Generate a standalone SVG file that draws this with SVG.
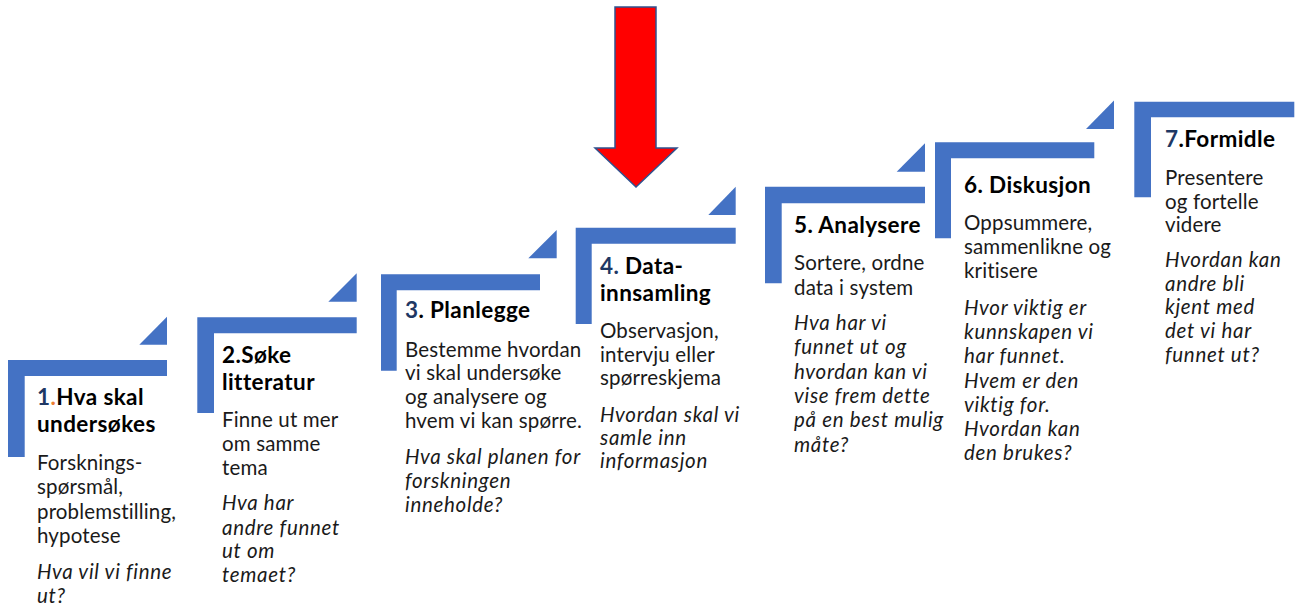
<svg xmlns="http://www.w3.org/2000/svg" width="1298" height="605" viewBox="0 0 1298 605">
<style>
.step{fill:#4472C4}
.t{font-family:Lato,"Open Sans","Liberation Sans",sans-serif;font-weight:700;font-size:22.5px;letter-spacing:0.4px;fill:#000}
.b{font-family:Lato,"Open Sans","Liberation Sans",sans-serif;font-size:20.5px;letter-spacing:0.15px;fill:#1a1a1a}
.i{font-style:italic;letter-spacing:0.7px}
.n{fill:#1F3864}
.o{fill:#ED7D31}
</style>
<rect width="1298" height="605" fill="#fff"/>
<g id="step1">
<path class="step" d="M8,360H167V376H24.7V457H8Z"/>
<path class="step" d="M139.3,344.7L167,316.7V344.7Z"/>
<text class="t" x="37" y="405"><tspan class="n">1</tspan><tspan class="o">.</tspan>Hva skal</text>
<text class="t" x="37" y="431.7">undersøkes</text>
<text class="b" x="37" y="470">Forsknings-</text>
<text class="b" x="37" y="494.3">spørsmål,</text>
<text class="b" x="37" y="519">problemstilling,</text>
<text class="b" x="37" y="543.3">hypotese</text>
<text class="b i" x="37" y="579.3">Hva vil vi finne</text>
<text class="b i" x="37" y="603.3">ut?</text>
</g>
<g id="step2">
<path class="step" d="M197.3,317.3H356.7V333.3H214V413H197.3Z"/>
<path class="step" d="M328.3,301.7L356.7,273.3V301.7Z"/>
<text class="t" x="222" y="363.3">2.Søke</text>
<text class="t" x="222" y="390">litteratur</text>
<text class="b" x="222" y="426.7">Finne ut mer</text>
<text class="b" x="222" y="450.5">om samme</text>
<text class="b" x="222" y="475">tema</text>
<text class="b i" x="222" y="510">Hva har</text>
<text class="b i" x="222" y="535">andre funnet</text>
<text class="b i" x="222" y="558.3">ut om</text>
<text class="b i" x="222" y="581.7">temaet?</text>
</g>
<g id="step3">
<path class="step" d="M381,274.3H540V290.3H396.7V370.7H381Z"/>
<path class="step" d="M528.3,258.3L556.7,230V258.3Z"/>
<text class="t" x="405" y="317.7"><tspan class="n">3</tspan>. Planlegge</text>
<text class="b" x="405" y="356.5">Bestemme hvordan</text>
<text class="b" x="405" y="380">vi skal undersøke</text>
<text class="b" x="405" y="404">og analysere og</text>
<text class="b" x="405" y="428">hvem vi kan spørre.</text>
<text class="b i" x="405" y="464">Hva skal planen for</text>
<text class="b i" x="405" y="488">forskningen</text>
<text class="b i" x="405" y="512">inneholde?</text>
</g>
<g id="step4">
<path class="step" d="M575.7,227.7H735.7V243.7H591.7V324H575.7Z"/>
<path class="step" d="M708.3,215L735.7,186.7V215Z"/>
<text class="t" x="600" y="274"><tspan class="n">4.</tspan> Data-</text>
<text class="t" x="600" y="300.5">innsamling</text>
<text class="b" x="600" y="338.3">Observasjon,</text>
<text class="b" x="600" y="361.7">intervju eller</text>
<text class="b" x="600" y="385">spørreskjema</text>
<text class="b i" x="600" y="421.7">Hvordan skal vi</text>
<text class="b i" x="600" y="445">samle inn</text>
<text class="b i" x="600" y="468.3">informasjon</text>
</g>
<g id="step5">
<path class="step" d="M765,186.7H925V203.3H781.7V283.3H765Z"/>
<path class="step" d="M896.7,171.7L925,143.3V171.7Z"/>
<text class="t" x="794" y="233.3">5. Analysere</text>
<text class="b" x="794" y="270">Sortere, ordne</text>
<text class="b" x="794" y="294.5">data i system</text>
<text class="b i" x="794" y="330">Hva har vi</text>
<text class="b i" x="794" y="354">funnet ut og</text>
<text class="b i" x="794" y="378.5">hvordan kan vi</text>
<text class="b i" x="794" y="403">vise frem dette</text>
<text class="b i" x="794" y="427">på en best mulig</text>
<text class="b i" x="794" y="451.5">måte?</text>
</g>
<g id="step6">
<path class="step" d="M935,142.3H1094.3V158.3H951V238.3H935Z"/>
<path class="step" d="M1086,129L1114,100.5V129Z"/>
<text class="t" x="964" y="193.3">6. Diskusjon</text>
<text class="b" x="964" y="230">Oppsummere,</text>
<text class="b" x="964" y="254">sammenlikne og</text>
<text class="b" x="964" y="278.3">kritisere</text>
<text class="b i" x="964" y="315">Hvor viktig er</text>
<text class="b i" x="964" y="339">kunnskapen vi</text>
<text class="b i" x="964" y="363.3">har funnet.</text>
<text class="b i" x="964" y="387.7">Hvem er den</text>
<text class="b i" x="964" y="411.7">viktig for.</text>
<text class="b i" x="964" y="436.3">Hvordan kan</text>
<text class="b i" x="964" y="460">den brukes?</text>
</g>
<g id="step7">
<path class="step" d="M1134.3,101.7H1294.3V117.3H1151V197.3H1134.3Z"/>
<text class="t" x="1165" y="146.7"><tspan class="n">7</tspan>.Formidle</text>
<text class="b" x="1165" y="185">Presentere</text>
<text class="b" x="1165" y="208.5">og fortelle</text>
<text class="b" x="1165" y="232">videre</text>
<text class="b i" x="1165" y="266.7">Hvordan kan</text>
<text class="b i" x="1165" y="290.5">andre bli</text>
<text class="b i" x="1165" y="314.3">kjent med</text>
<text class="b i" x="1165" y="338.3">det vi har</text>
<text class="b i" x="1165" y="362">funnet ut?</text>
</g>
<g id="arrow">
<path d="M615,7H656V148H677L636,187L595,148H615Z" fill="#FF0000" stroke="#2F528F" stroke-width="1.5" stroke-linejoin="miter"/>
</g>
</svg>
